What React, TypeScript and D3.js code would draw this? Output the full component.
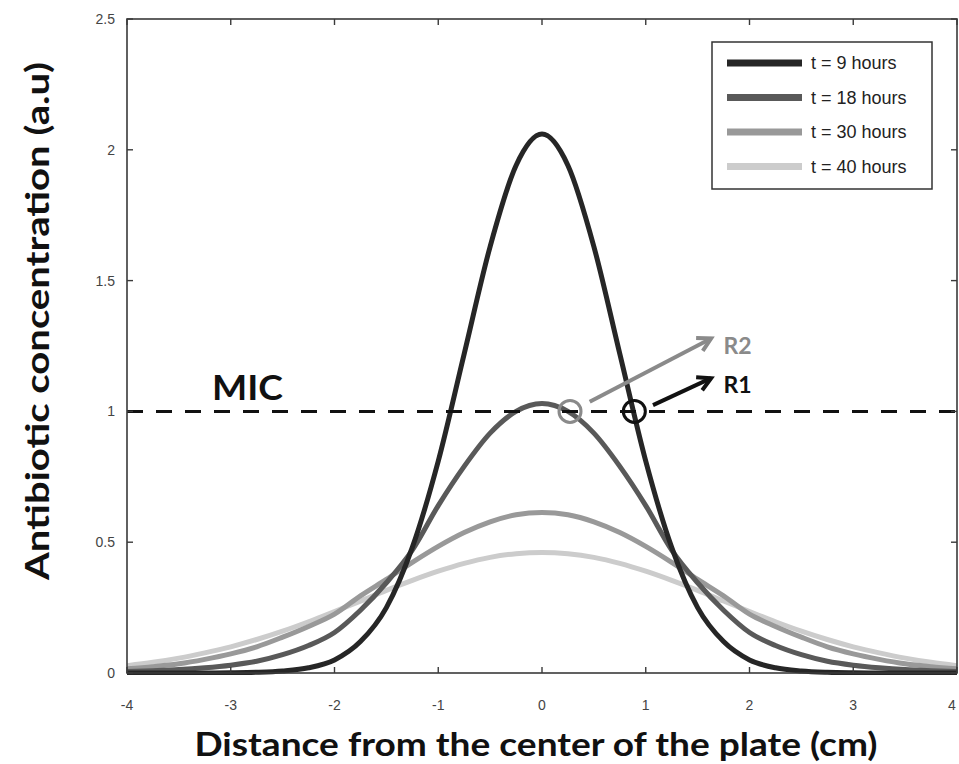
import React from "react";
import * as d3 from "d3";

// x positions (cm) shared by all series
const xs = [
  -4, -3.75, -3.5, -3.25, -3, -2.75, -2.5, -2.25, -2, -1.75, -1.5, -1.25, -1, -0.75, -0.5, -0.25,
  0, 0.25, 0.5, 0.75, 1, 1.25, 1.5, 1.75, 2, 2.25, 2.5, 2.75, 3, 3.25, 3.5, 3.75, 4,
];

const t9 = [
  0, 0, 0, 0, 0.001, 0.003, 0.008, 0.02, 0.05, 0.12, 0.25, 0.48, 0.81, 1.22, 1.63, 1.94,
  2.06, 1.94, 1.63, 1.22, 0.81, 0.48, 0.25, 0.12, 0.05, 0.02, 0.008, 0.003, 0.001, 0, 0, 0, 0,
];
const t18 = [
  0.006, 0.009, 0.013, 0.02, 0.03, 0.045, 0.07, 0.105, 0.155, 0.24, 0.345, 0.47, 0.64, 0.79, 0.917, 1.0,
  1.03, 1.0, 0.917, 0.79, 0.64, 0.47, 0.345, 0.24, 0.155, 0.105, 0.07, 0.045, 0.03, 0.02, 0.013, 0.009, 0.006,
];
const t30 = [
  0.016, 0.024, 0.035, 0.052, 0.073, 0.1, 0.137, 0.178, 0.225, 0.295, 0.358, 0.423, 0.484, 0.537, 0.578, 0.605,
  0.614, 0.605, 0.578, 0.537, 0.484, 0.423, 0.358, 0.295, 0.225, 0.178, 0.137, 0.1, 0.073, 0.052, 0.035, 0.024, 0.016,
];
const t40 = [
  0.028, 0.041, 0.057, 0.077, 0.1, 0.128, 0.16, 0.196, 0.235, 0.275, 0.316, 0.354, 0.389, 0.419, 0.442, 0.456,
  0.461, 0.456, 0.442, 0.419, 0.389, 0.354, 0.316, 0.275, 0.235, 0.196, 0.16, 0.128, 0.1, 0.077, 0.057, 0.041, 0.028,
];

const seriesNames = ["t = 9 hours", "t = 18 hours", "t = 30 hours", "t = 40 hours"];
const seriesValues = [t9, t18, t30, t40];
const seriesColors = ["#262626", "#595959", "#999999", "#cccccc"];

const xTicks = [-4, -3, -2, -1, 0, 1, 2, 3, 4];
const yTicks = [0, 0.5, 1, 1.5, 2, 2.5];
const yTickLabels = ["0", "0.5", "1", "1.5", "2", "2.5"];

const micLevel = 1;
// annotation markers (data coords)
const circles = [
  { x: 0.27, y: 1, color: "#8a8a8a" },
  { x: 0.89, y: 1, color: "#111111" },
];
const arrows = [
  { x0: 0.46, y0: 1.037, x1: 1.63, y1: 1.279, color: "#8a8a8a", label: "R2", ly: 1.25 },
  { x0: 1.07, y0: 1.024, x1: 1.63, y1: 1.127, color: "#111111", label: "R1", ly: 1.1 },
];

export default function App() {
  const W = 959;
  const H = 764;
  const left = 127, right = 957, top = 19, bottom = 673;
  const x = d3.scaleLinear().domain([-4, 4]).range([left, right]);
  const y = d3.scaleLinear().domain([0, 2.5]).range([bottom, top]);

  const line = d3
    .line<number>()
    .x((_, i) => x(xs[i]))
    .y((d) => y(d))
    .curve(d3.curveMonotoneX);

  const axisColor = "#3a3a3a";
  const tickLen = 6;
  const tickFont = "'Liberation Sans', Arial, sans-serif";
  const boldFont = "Lato, 'Open Sans', sans-serif";

  const arrowHead = (a: typeof arrows[0]) => {
    const X0 = x(a.x0), Y0 = y(a.y0), X1 = x(a.x1), Y1 = y(a.y1);
    const ang = Math.atan2(Y1 - Y0, X1 - X0);
    const L = 15, spread = 0.5;
    const p1 = [X1 - L * Math.cos(ang - spread), Y1 - L * Math.sin(ang - spread)];
    const p2 = [X1 - L * Math.cos(ang + spread), Y1 - L * Math.sin(ang + spread)];
    return `M${p1[0]},${p1[1]}L${X1},${Y1}L${p2[0]},${p2[1]}`;
  };

  return (
    <svg
      width={W}
      height={H}
      style={{ position: "absolute", left: 0, top: 0, background: "#fff" }}
    >
      <rect x={0} y={0} width={W} height={H} fill="#fff" />
      <defs>
        <clipPath id="plotclip">
          <rect x={left} y={top} width={right - left} height={bottom - top + 2} />
        </clipPath>
      </defs>

      {/* curves */}
      <g clipPath="url(#plotclip)">
        {seriesValues
          .map((vals, i) => ({ vals, i }))
          .reverse()
          .map(({ vals, i }) => (
            <path
              key={i}
              d={line(vals) || ""}
              fill="none"
              stroke={seriesColors[i]}
              strokeWidth={5}
              strokeLinejoin="round"
            />
          ))}
      </g>

      {/* MIC dashed line */}
      <line
        x1={x(-4)}
        x2={x(4)}
        y1={y(micLevel)}
        y2={y(micLevel)}
        stroke="#111"
        strokeWidth={3}
        strokeDasharray="16 13"
      />
      <text
        x={212}
        y={400}
        fontFamily={boldFont}
        fontWeight={700}
        fontSize={35}
        fill="#111"
        textLength={71}
        lengthAdjust="spacingAndGlyphs"
      >
        MIC
      </text>

      {/* circles */}
      {circles.map((c, i) => (
        <circle key={i} cx={x(c.x)} cy={y(c.y)} r={11} fill="none" stroke={c.color} strokeWidth={3} />
      ))}

      {/* arrows */}
      {arrows.map((a, i) => (
        <g key={i}>
          <line x1={x(a.x0)} y1={y(a.y0)} x2={x(a.x1)} y2={y(a.y1)} stroke={a.color} strokeWidth={4} />
          <path d={arrowHead(a)} fill="none" stroke={a.color} strokeWidth={4} strokeLinecap="butt" />
          <text
            x={x(1.75)}
            y={y(a.ly) + 8}
            fontFamily={boldFont}
            fontWeight={700}
            fontSize={23}
            fill={a.color}
          >
            {a.label}
          </text>
        </g>
      ))}

      {/* axes box */}
      <rect
        x={left}
        y={top}
        width={right - left}
        height={bottom - top}
        fill="none"
        stroke={axisColor}
        strokeWidth={1.6}
      />
      {xTicks.map((t) => (
        <g key={"xt" + t}>
          <line x1={x(t)} x2={x(t)} y1={bottom} y2={bottom - tickLen} stroke={axisColor} strokeWidth={1.4} />
          <line x1={x(t)} x2={x(t)} y1={top} y2={top + tickLen} stroke={axisColor} strokeWidth={1.4} />
          <text
            x={Math.min(x(t), 952)}
            y={710}
            textAnchor="middle"
            fontFamily={tickFont}
            fontSize={14}
            fill="#444"
          >
            {t}
          </text>
        </g>
      ))}
      {yTicks.map((t, i) => (
        <g key={"yt" + t}>
          <line x1={left} x2={left + tickLen} y1={y(t)} y2={y(t)} stroke={axisColor} strokeWidth={1.4} />
          <line x1={right} x2={right - tickLen} y1={y(t)} y2={y(t)} stroke={axisColor} strokeWidth={1.4} />
          <text
            x={115}
            y={y(t) + 5}
            textAnchor="end"
            fontFamily={tickFont}
            fontSize={14}
            fill="#444"
          >
            {yTickLabels[i]}
          </text>
        </g>
      ))}

      {/* legend */}
      <rect x={712} y={42} width={220} height={147} fill="#fff" stroke="#333" strokeWidth={1.5} />
      {seriesNames.map((n, i) => {
        const ly = 63 + i * 34.5;
        return (
          <g key={n}>
            <line x1={727} x2={802} y1={ly} y2={ly} stroke={seriesColors[i]} strokeWidth={7} />
            <text x={811} y={ly + 6} fontFamily={tickFont} fontSize={18} fill="#222">
              {n}
            </text>
          </g>
        );
      })}

      {/* axis titles */}
      <text
        x={536}
        y={756}
        textAnchor="middle"
        fontFamily={boldFont}
        fontWeight={700}
        fontSize={33}
        fill="#111"
        textLength={683}
        lengthAdjust="spacingAndGlyphs"
      >
        Distance from the center of the plate (cm)
      </text>
      <text
        transform={`translate(49,321) rotate(-90)`}
        textAnchor="middle"
        fontFamily={boldFont}
        fontWeight={700}
        fontSize={33}
        fill="#111"
        textLength={518}
        lengthAdjust="spacingAndGlyphs"
      >
        Antibiotic concentration (a.u)
      </text>
    </svg>
  );
}
